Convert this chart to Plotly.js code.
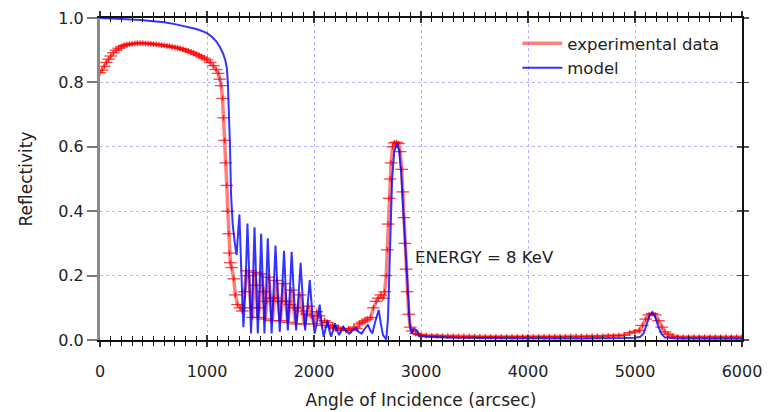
<!DOCTYPE html>
<html>
<head>
<meta charset="utf-8">
<script src="https://cdn.plot.ly/plotly-3.0.1.min.js"></script>
<style>html,body{margin:0;padding:0;background:#fff;}#chart{width:770px;height:412px;}</style>
</head>
<body>
<div id="chart"></div>
<script>
// Experimental data (angle in arcsec, reflectivity)
const expAngle = [0,20,40,60,80,100,125,150,175,200,225,250,275,300,325,350,375,400,425,450,475,500,525,550,575,600,625,650,675,700,725,750,775,800,825,850,875,900,925,950,975,1000,1030,1060,1085,1105,1120,1133,1145,1155,1165,1175,1185,1195,1203,1210,1218,1230,1250,1265,1285,1310,1330,1350,1370,1390,1410,1425,1440,1460,1475,1490,1510,1530,1545,1560,1575,1595,1610,1630,1650,1665,1685,1700,1715,1735,1755,1775,1790,1810,1830,1850,1870,1890,1910,1930,1950,1975,2000,2025,2050,2075,2100,2125,2150,2175,2200,2225,2250,2275,2300,2325,2350,2375,2400,2425,2450,2475,2500,2530,2555,2580,2600,2625,2645,2660,2675,2685,2693,2702,2711,2720,2735,2750,2770,2790,2805,2820,2830,2840,2850,2860,2870,2885,2900,2920,2950,2980,3000,3050,3100,3150,3200,3250,3300,3350,3400,3450,3500,3550,3600,3650,3700,3750,3800,3850,3900,3950,4000,4050,4100,4150,4200,4250,4300,4350,4400,4450,4500,4550,4600,4650,4700,4750,4800,4850,4900,4950,5000,5040,5070,5100,5130,5160,5190,5220,5250,5280,5310,5350,5400,5450,5500,5550,5600,5650,5700,5750,5800,5850,5900,5950,6000];
const expReflect = [0.83,0.838,0.85,0.862,0.872,0.882,0.892,0.9,0.906,0.911,0.915,0.917,0.919,0.92,0.921,0.922,0.922,0.922,0.921,0.921,0.92,0.919,0.918,0.917,0.916,0.915,0.913,0.912,0.91,0.909,0.907,0.905,0.903,0.9,0.897,0.894,0.891,0.887,0.883,0.879,0.875,0.87,0.862,0.852,0.84,0.828,0.81,0.79,0.75,0.69,0.62,0.55,0.48,0.4,0.33,0.27,0.24,0.225,0.19,0.14,0.11,0.1,0.09,0.15,0.215,0.2,0.1,0.07,0.21,0.17,0.07,0.1,0.205,0.15,0.065,0.12,0.195,0.13,0.06,0.13,0.185,0.12,0.06,0.12,0.175,0.12,0.055,0.11,0.155,0.1,0.05,0.1,0.14,0.09,0.05,0.08,0.105,0.075,0.05,0.088,0.075,0.045,0.06,0.055,0.04,0.045,0.035,0.04,0.03,0.035,0.03,0.035,0.03,0.04,0.035,0.05,0.055,0.06,0.065,0.07,0.1,0.12,0.13,0.14,0.13,0.15,0.2,0.28,0.36,0.44,0.5,0.55,0.6,0.612,0.614,0.61,0.585,0.53,0.46,0.38,0.3,0.22,0.15,0.08,0.04,0.028,0.02,0.017,0.015,0.014,0.013,0.013,0.012,0.012,0.012,0.011,0.011,0.011,0.011,0.01,0.01,0.01,0.01,0.01,0.01,0.01,0.01,0.01,0.01,0.01,0.01,0.01,0.01,0.01,0.01,0.01,0.011,0.011,0.011,0.011,0.012,0.012,0.012,0.013,0.013,0.014,0.015,0.022,0.025,0.03,0.045,0.065,0.078,0.082,0.078,0.06,0.04,0.025,0.018,0.012,0.01,0.009,0.009,0.009,0.009,0.009,0.009,0.009,0.009,0.009,0.009,0.009,0.009];

// Model curve
const modelAngle = [0,100,200,300,400,500,600,700,800,900,950,1000,1050,1090,1120,1150,1170,1185,1195,1205,1215,1225,1240,1260,1277,1292,1303,1320,1340,1358,1378,1395,1411,1428,1444,1460,1475,1491,1506,1522,1537,1553,1568,1586,1604,1622,1640,1660,1680,1700,1720,1738,1755,1773,1791,1812,1833,1854,1875,1896,1917,1938,1960,1983,2006,2030,2053,2072,2090,2108,2126,2143,2160,2178,2196,2215,2235,2255,2274,2300,2330,2360,2390,2418,2445,2475,2505,2525,2545,2575,2605,2625,2645,2675,2692,2705,2715,2730,2750,2775,2795,2815,2835,2855,2875,2895,2912,2935,2960,2985,3050,3300,3600,4000,4500,4900,5000,5050,5080,5110,5140,5165,5190,5220,5250,5280,5400,6000];
const modelReflect = [1.0,0.999,0.997,0.995,0.993,0.991,0.987,0.981,0.974,0.966,0.96,0.953,0.94,0.926,0.91,0.89,0.87,0.845,0.8,0.72,0.6,0.45,0.36,0.3,0.264,0.34,0.39,0.22,0.04,0.15,0.362,0.2,0.02,0.16,0.35,0.18,0.02,0.16,0.33,0.17,0.02,0.16,0.316,0.16,0.02,0.15,0.293,0.15,0.025,0.14,0.277,0.14,0.03,0.14,0.274,0.14,0.03,0.13,0.24,0.12,0.03,0.1,0.186,0.09,0.02,0.06,0.11,0.05,0.01,0.035,0.06,0.03,0.01,0.03,0.052,0.03,0.015,0.03,0.041,0.028,0.02,0.03,0.036,0.025,0.02,0.035,0.048,0.03,0.02,0.06,0.093,0.05,0.015,0.002,0.07,0.22,0.37,0.5,0.585,0.612,0.59,0.52,0.4,0.27,0.14,0.05,0.02,0.035,0.03,0.012,0.01,0.007,0.006,0.005,0.005,0.006,0.007,0.01,0.02,0.05,0.078,0.086,0.07,0.04,0.018,0.008,0.005,0.004];

// Axis ticks
const xTickVals = [0,1000,2000,3000,4000,5000,6000];
const xTickText = ['0','1000','2000','3000','4000','5000','6000'];
const yTickVals = [0,0.2,0.4,0.6,0.8,1.0];
const yTickText = ['0.0','0.2','0.4','0.6','0.8','1.0'];

const seriesNames = ['experimental data','model'];
const annotationText = 'ENERGY = 8 KeV';

const FONT = 'DejaVu Sans, Arial, sans-serif';
const gridColor = '#b4b4ff';

const traces = [
  {
    x: expAngle, y: expReflect, type: 'scatter', mode: 'lines',
    name: seriesNames[0],
    line: {color: 'rgba(255,0,0,0.5)', width: 3.5},
    xaxis: 'x', yaxis: 'y'
  },
  {
    x: expAngle, y: expReflect, type: 'scatter', mode: 'markers',
    showlegend: false, hoverinfo: 'skip',
    marker: {symbol: 'line-ew', size: 9, color: 'red', line: {color: 'rgba(255,0,0,0.75)', width: 1.3}},
    error_y: {type: 'constant', value: 0.009, thickness: 1.3, width: 0, color: 'rgba(255,0,0,0.75)'},
    xaxis: 'x', yaxis: 'y'
  },
  {
    x: modelAngle, y: modelReflect, type: 'scatter', mode: 'lines',
    name: seriesNames[1],
    line: {color: 'rgba(0,0,255,0.8)', width: 2},
    xaxis: 'x', yaxis: 'y'
  },
  {x: [], y: [], xaxis: 'x2', yaxis: 'y2', showlegend: false, hoverinfo: 'skip'},
  {x: [], y: [], xaxis: 'x2', yaxis: 'y3', showlegend: false, hoverinfo: 'skip'}
];

const layout = {
  width: 770, height: 412,
  margin: {l: 100, r: 28, t: 18, b: 72},
  paper_bgcolor: '#fff', plot_bgcolor: '#fff',
  font: {family: FONT, size: 16, color: '#222'},
  showlegend: true,
  legend: {
    x: 0.65, y: 0.975, xanchor: 'left', yanchor: 'top',
    bgcolor: 'rgba(0,0,0,0)', borderwidth: 0,
    font: {family: FONT, size: 16.5, color: '#222'},
    itemwidth: 40, tracegroupgap: 0
  },
  xaxis: {
    range: [0, 6000], tickvals: xTickVals, ticktext: xTickText,
    showline: true, linecolor: '#111', linewidth: 2, mirror: 'ticks',
    ticks: 'outside', ticklen: 5, tickwidth: 1.5, tickcolor: '#333',
    ticklabelstandoff: 11,
    minor: {dtick: 100, ticks: 'outside', ticklen: 4, tickwidth: 1, tickcolor: '#111', showgrid: false},
    showgrid: true, gridcolor: gridColor, griddash: 'dot', gridwidth: 1,
    zeroline: false,
    tickfont: {family: FONT, size: 16, color: '#222'},
    title: {text: 'Angle of Incidence (arcsec)', font: {family: FONT, size: 17, color: '#222'}, standoff: 14}
  },
  xaxis2: {
    range: [0, 6000], overlaying: 'x', anchor: 'y', side: 'bottom',
    tickvals: xTickVals, showticklabels: false, showline: false, mirror: 'ticks',
    ticks: 'inside', ticklen: 5, tickwidth: 1.5, tickcolor: '#333',
    minor: {dtick: 100, ticks: 'inside', ticklen: 4, tickwidth: 1, tickcolor: '#111', showgrid: false},
    showgrid: false, zeroline: false
  },
  yaxis: {
    range: [0, 1.0], tickvals: yTickVals, ticktext: yTickText,
    showline: true, linecolor: '#8a8a8a', linewidth: 3,
    ticks: 'outside', ticklen: 10, tickwidth: 2, tickcolor: '#777',
    showgrid: true, gridcolor: gridColor, griddash: 'dot', gridwidth: 1,
    zeroline: false,
    tickfont: {family: FONT, size: 16, color: '#222'},
    title: {text: 'Reflectivity', font: {family: FONT, size: 17, color: '#222'}, standoff: 22}
  },
  yaxis2: {
    range: [0, 1.0], overlaying: 'y', anchor: 'x2', side: 'right',
    tickvals: yTickVals, showticklabels: false,
    showline: true, linecolor: '#111', linewidth: 1.5,
    ticks: 'outside', ticklen: 5, tickwidth: 1.5, tickcolor: '#555',
    showgrid: false, zeroline: false
  },
  yaxis3: {
    range: [0, 1.0], overlaying: 'y', anchor: 'x2', side: 'right',
    tickvals: yTickVals, showticklabels: false, showline: false,
    ticks: 'inside', ticklen: 5, tickwidth: 1.5, tickcolor: '#555',
    showgrid: false, zeroline: false
  },
  annotations: [{
    x: 2925, y: 0.255, xref: 'x', yref: 'y', text: annotationText,
    showarrow: false, xanchor: 'left', yanchor: 'middle',
    font: {family: FONT, size: 16.5, color: '#222'}
  }]
};

Plotly.newPlot('chart', traces, layout, {staticPlot: true, displayModeBar: false});
</script>
</body>
</html>
